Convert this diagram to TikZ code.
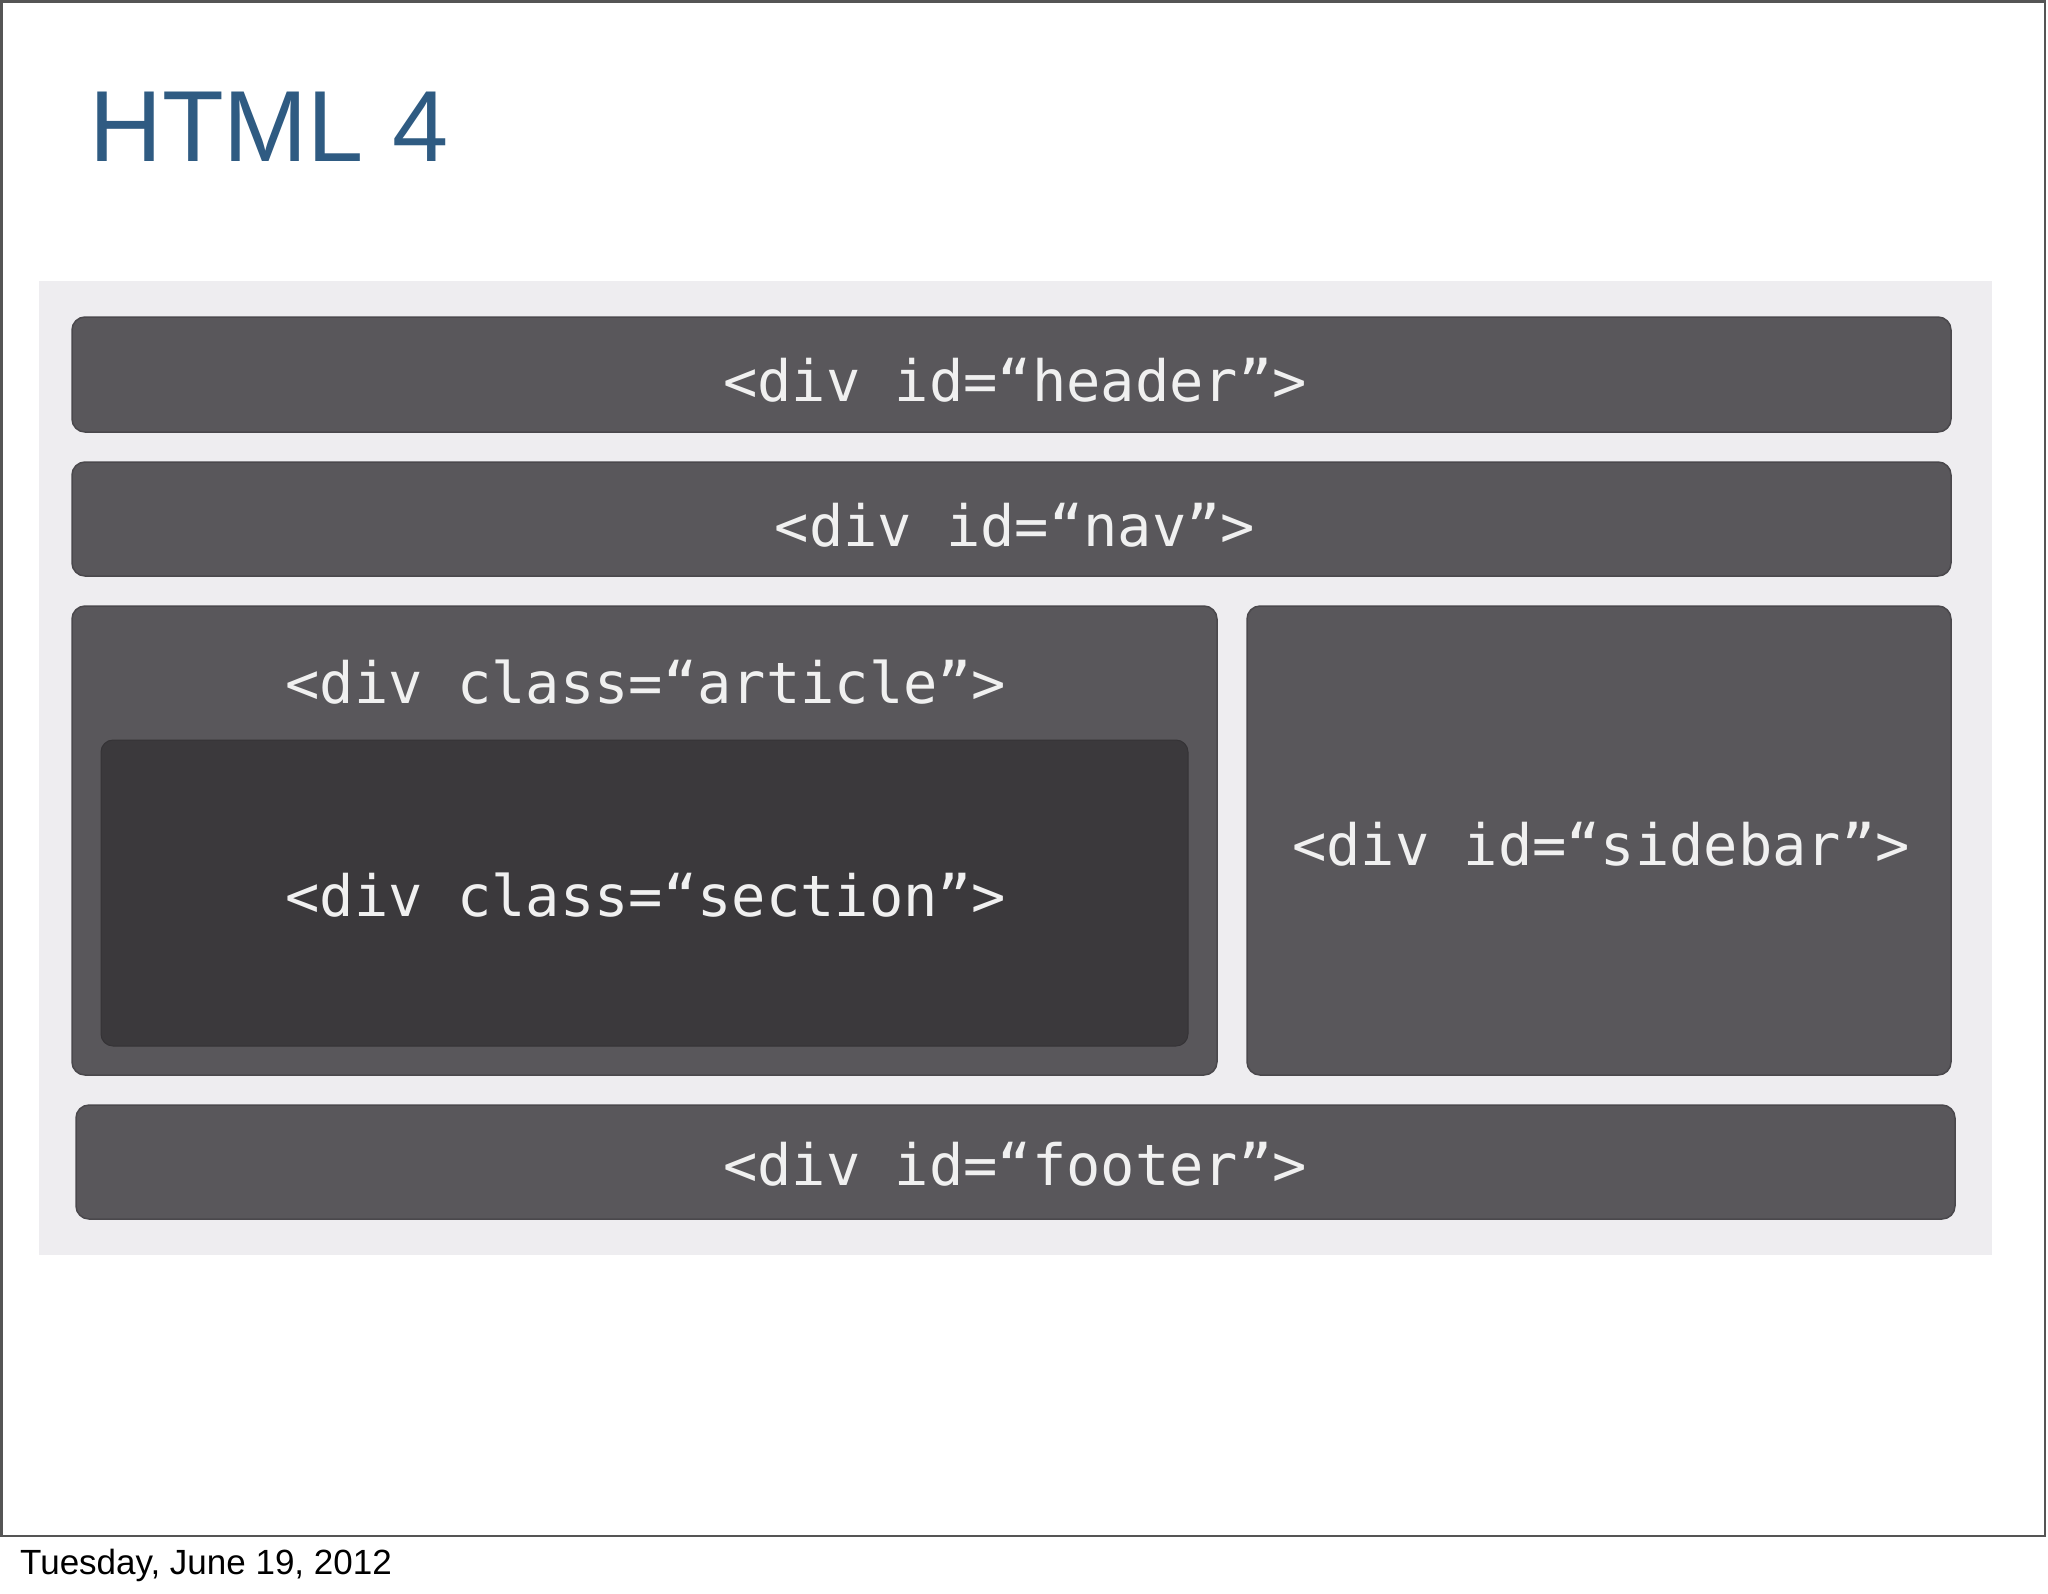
\documentclass[tikz,border=0pt]{standalone}
\usepackage{fontspec}
\setmainfont{Liberation Sans}
\newfontfamily\codefont{DejaVu Sans Mono}
\definecolor{panelc}{HTML}{EEEDF0}
\definecolor{boxc}{HTML}{59575B}
\definecolor{boxedge}{HTML}{4A484C}
\definecolor{sectc}{HTML}{3B393C}
\definecolor{titlec}{HTML}{2F5B82}
\definecolor{framec}{HTML}{555555}
\definecolor{textc}{HTML}{F0F0F0}
\begin{document}
\begin{tikzpicture}[x=1pt,y=-1pt,
  divbox/.style={fill=boxc, draw=boxedge, line width=1.5pt, rounded corners=13pt, inner sep=0pt},
  sectbox/.style={fill=sectc, draw=sectc!90!black, line width=1pt, rounded corners=12pt, inner sep=0pt},
  codelbl/.style={text=textc, font=\codefont\fontsize{57}{60}\selectfont, inner sep=0pt, anchor=base}]
\useasboundingbox (0,0) rectangle (2048,1593);
\fill[white] (0,0) rectangle (2048,1593);
% slide frame
\draw[framec, line width=2.5pt] (1.5,1.5) rectangle (2045,1536);
% title
\node[text=titlec, font=\fontsize{101}{105}\selectfont, anchor=base west, inner sep=0pt] (title) at (89,161) {HTML 4};
% light panel
\fill[panelc] (39,281) rectangle (1992,1255);
% boxes
\node[divbox, minimum width=1879pt, minimum height=115pt] (header) at (1011.5,374.5) {};
\node[divbox, minimum width=1879pt, minimum height=114pt] (nav) at (1011.5,519) {};
\node[divbox, minimum width=1145pt, minimum height=469pt] (article) at (644.5,840.5) {};
\node[sectbox, minimum width=1087pt, minimum height=306pt] (section) at (644.5,893) {};
\node[divbox, minimum width=704pt, minimum height=469pt] (sidebar) at (1599,840.5) {};
\node[divbox, minimum width=1879pt, minimum height=114pt] (footer) at (1015.5,1162) {};
% labels
\node[codelbl] (headerT) at (1015,401) {<div id=“header”>};
\node[codelbl] (navT) at (1015,546) {<div id=“nav”>};
\node[codelbl] (articleT) at (646,703) {<div class=“article”>};
\node[codelbl] (sectionT) at (646,916) {<div class=“section”>};
\node[codelbl] (sidebarT) at (1601,865) {<div id=“sidebar”>};
\node[codelbl] (footerT) at (1015,1185) {<div id=“footer”>};
% date
\node[font=\fontsize{35}{40}\selectfont, anchor=base west, inner sep=0pt] (date) at (20,1574) {Tuesday, June 19, 2012};
\end{tikzpicture}
\end{document}
